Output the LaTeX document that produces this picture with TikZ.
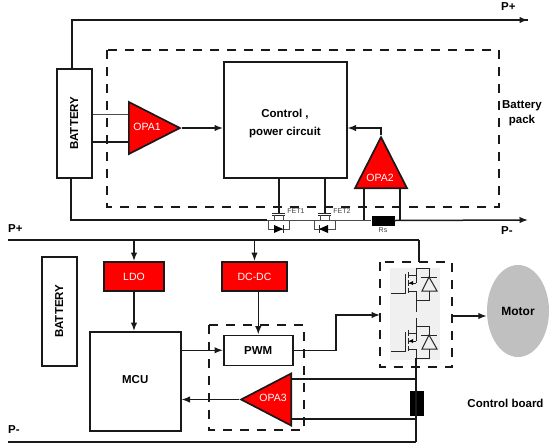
\documentclass[tikz,border=0pt]{standalone}
\usepackage{fontspec}
\setmainfont{Liberation Sans}
\usetikzlibrary{arrows.meta,positioning,calc,shapes.geometric}
\definecolor{opared}{HTML}{FF0000}
\definecolor{motorgray}{HTML}{C0C0C0}
\definecolor{fetgray}{HTML}{F0F0F0}
\tikzset{
  wire/.style={line width=1.5pt, draw=black!90},
  arrow/.style={wire, -{Latex[length=8.5pt,width=6.5pt]}},
  thinwire/.style={line width=0.8pt, draw=black!70},
  fetwire/.style={line width=1pt, draw=black!85},
  dashbox/.style={line width=1.5pt, draw=black!90, dash pattern=on 9pt off 8pt},
  block/.style={draw=black!90, line width=1.5pt, fill=white, inner sep=0pt, align=center, font=\bfseries\fontsize{11.5}{14}\selectfont},
  battbox/.style={block, minimum width=35pt, minimum height=109pt, anchor=north west},
  batttext/.style={rotate=90, inner sep=0pt, font=\bfseries\fontsize{11.5}{14}\selectfont},
  redbox/.style={draw=black!90, line width=2pt, fill=opared, inner sep=0pt, minimum height=29pt, text=white, font=\fontsize{10.5}{12}\selectfont},
  opamp/.style={isosceles triangle, isosceles triangle stretches, draw=black!90, line width=1.7pt, fill=opared, inner sep=0pt},
  opatext/.style={text=white, inner sep=0pt, font=\fontsize{10.5}{12}\selectfont},
  shunt/.style={fill=black, draw=black, inner sep=0pt},
  tag/.style={inner sep=0pt, font=\fontsize{7}{8}\selectfont, text=black!75},
  plain/.style={inner sep=0pt, align=center, font=\bfseries\fontsize{11.5}{15}\selectfont}
}
\begin{document}
\begin{tikzpicture}[x=1pt,y=-1pt]
\useasboundingbox (0,0) rectangle (551,445);
% upper board
\draw[dashbox] (107,50) rectangle (499,207);
\node[battbox] (batt) at (56,68) {};
\node[batttext] (batttxt) at (batt.center) {BATTERY};
\node[block, minimum width=123pt, minimum height=116pt, anchor=north west] (ctrl) at (223,61) {};
\node[plain] (ctrltxt) at (285,124) {Control ,\\[3pt]power circuit};
\node[opamp, minimum width=52pt, minimum height=51pt, anchor=lower side] (opa1) at (128,128) {};
\node[opatext] (opa1txt) at (147,127) {OPA1};
\node[opamp, shape border rotate=90, minimum width=52pt, minimum height=51pt, anchor=lower side] (opa2) at (381,189) {};
\node[opatext] (opa2txt) at (380,178) {OPA2};
\node[shunt, minimum width=22pt, minimum height=9pt] (rs) at (383,220.5) {};
\node[tag, below=2.5pt of rs] (rslabel) {Rs};
\coordinate (pplus) at (528,20);
\coordinate (pminus) at (528,220);
\coordinate (fetone) at (279,213);
\coordinate (fettwo) at (325,213);
\node[plain, anchor=west] (ppluslabel) at (501,7) {P+};
\node[plain, anchor=west] (pminuslabel) at (501,231) {P-};
\node[plain] (packlabel) at (522,113) {Battery\\pack};
\draw[wire] (72,68) |- (pplus);
\draw[arrow] (72,20) -- (pplus);
\draw[wire] (71,177) |- (267,220);
\draw[thinwire] (267,220) -- (371,220);
\draw[arrow] (rs.east) -- (pminus);
\draw[thinwire] (batt.east |- 0,114) -- (128,114);
\draw[wire] (batt.east |- 0,142) -- (128,142);
\draw[arrow] (opa1.apex) -- (opa1.apex -| ctrl.west);
\draw[arrow] (opa2.apex) |- (ctrl.east |- 0,128);
\draw[wire] (364,189) -- (364,220);
\draw[wire] (400,189) -- (400,220);
\draw[wire] (fetone) -- (fetone |- ctrl.south);
\draw[wire] (fettwo) -- (fettwo |- ctrl.south);
% fets of the upper board
\foreach \name/\gx/\tip/\base in {FET1/279/283/274, FET2/325/319/328}{
  \draw[fetwire] (\gx-7,213) -- (\gx+6,213);
  \draw[fetwire] (\gx-7,215) -- (\gx+6,215);
  \draw[thinwire] (\gx-5,215) -- (\gx-5,220) (\gx+4,215) -- (\gx+4,220);
  \draw[thinwire] (\gx-11,220) -- (\gx-11,229) -- (\gx+10,229) -- (\gx+10,220);
  \fill[black] (\tip,229) -- (\base,225) -- (\base,233) -- cycle;
  \draw[fetwire] (\tip,225) -- (\tip,233);
  \node[tag] at (\gx+17,211) {\name};
}
% lower board
\draw[wire] (8,240) -- (419,240);
\draw[wire] (8,442) -- (416,442);
\node[plain, anchor=west] (pplusb) at (8,229) {P+};
\node[plain, anchor=west] (pminusb) at (8,430) {P-};
\node[battbox] (battb) at (41,256) {};
\node[batttext] (battbtxt) at (battb.center) {BATTERY};
\node[redbox, minimum width=60pt, anchor=north west] (ldo) at (103,261) {LDO};
\node[redbox, minimum width=65pt, anchor=north west] (dcdc) at (221,261) {DC-DC};
\node[block, minimum width=91pt, minimum height=99pt, anchor=north west] (mcu) at (89,331) {\raisebox{3pt}{MCU}};
\draw[dashbox] (209,325) rectangle (304,430);
\node[block, minimum width=69pt, minimum height=30pt, anchor=north west] (pwm) at (223,334.5) {PWM};
\node[opamp, shape border rotate=180, minimum width=52pt, minimum height=50pt, anchor=lower side] (opa3) at (292,399.5) {};
\node[opatext] (opa3txt) at (273,398) {OPA3};
\fill[fetgray] (390,268) rectangle (440,360);
\draw[dashbox] (380,262) rectangle (452,367);
\node[shunt, minimum width=13pt, minimum height=24pt] (shuntb) at (416.5,403) {};
\node[ellipse, fill=motorgray, minimum width=62pt, minimum height=92pt, inner sep=0pt, font=\bfseries\fontsize{12}{14}\selectfont] (motor) at (518,311) {Motor};
\node[plain] (boardlabel) at (505.5,403) {Control board};
% half bridge
\foreach \dy in {0,58}{
  \begin{scope}[yshift=-\dy pt]
  \draw[fetwire] (391,293) -- (405,293) -- (405,274);
  \draw[fetwire] (408,272) -- (408,278) (408,280) -- (408,286) (408,288) -- (408,293);
  \draw[fetwire] (408,275) -- (416,275) (408,283) -- (416,283) (408,291) -- (416,291);
  \fill[black] (409,283) -- (413,281) -- (413,285) -- cycle;
  \draw[fetwire] (416,283) -- (416,268) -- (429,268) -- (429,300) -- (416,300) -- (416,291);
  \draw[fetwire, fill=fetgray] (429,277) -- (422,291) -- (437,291) -- cycle;
  \draw[fetwire] (421,277) -- (437,277);
  \end{scope}
}
\draw[fetwire] (416,300) -- (416,312);
\draw[fetwire] (416,318) -- (416,326);
% connectors of the lower board
\draw[arrow] (ldo.north |- 0,240) -- (ldo.north);
\draw[arrow] (dcdc.north |- 0,240) -- (dcdc.north);
\draw[arrow] (ldo.south) -- (ldo.south |- mcu.north);
\draw[arrow] (pwm.north |- dcdc.south) -- (pwm.north);
\draw[arrow] (mcu.east |- pwm.west) -- (pwm.west);
\draw[arrow] (pwm.east) -| (336,315) -- (380,315);
\draw[arrow] (opa3.apex) -- (opa3.apex -| mcu.east);
\draw[wire] (292,379) -- (416,379);
\draw[wire] (292,419) -- (416,419);
\draw[wire] (419,240) -- (419,262);
\draw[wire] (416,358) -- (416,442);
\draw[arrow] (452,316) -- (motor.west |- 0,316);
\end{tikzpicture}
\end{document}
